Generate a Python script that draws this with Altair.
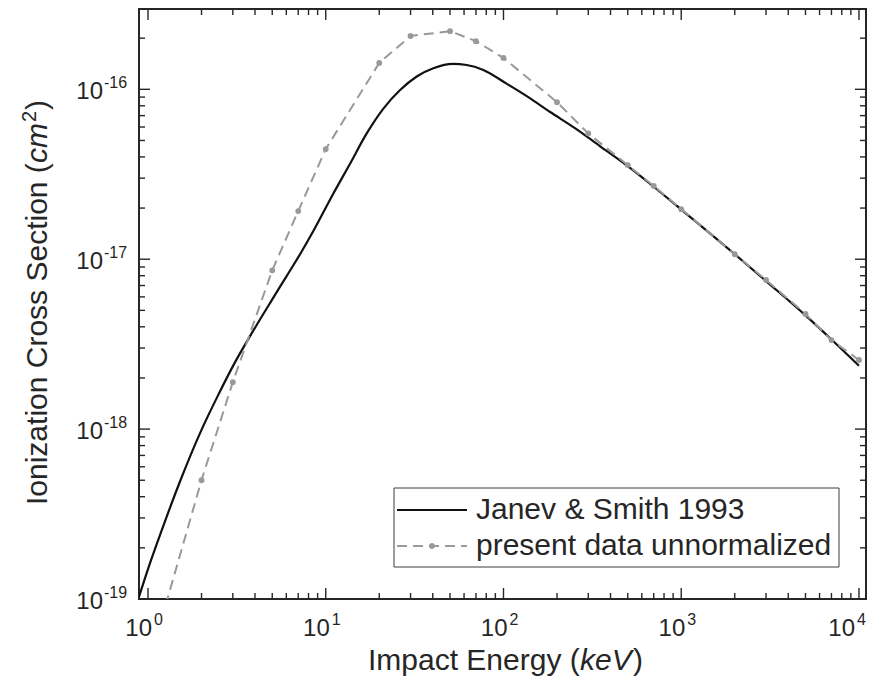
import altair as alt
import pandas as pd

# ---------------- data ----------------
# Janev & Smith 1993 (solid curve)
js_energy = [0.89, 1, 1.2, 1.5, 2, 2.5, 3, 4, 5, 6, 7.17, 8.5, 11, 13.7, 17, 21.1, 26.2, 32.5,
             40.3, 52, 62, 77, 104, 140, 183, 250, 350, 500, 700, 1000, 2000, 3000, 5000, 7000, 10000]
js_sigma = [1.03e-19, 1.5e-19, 2.57e-19, 4.8e-19, 9.9e-19, 1.61e-18, 2.34e-18, 3.95e-18, 5.8e-18,
            7.9e-18, 1.07e-17, 1.46e-17, 2.42e-17, 3.65e-17, 5.5e-17, 7.7e-17, 9.9e-17, 1.19e-16,
            1.33e-16, 1.41e-16, 1.39e-16, 1.30e-16, 1.08e-16, 8.9e-17, 7.35e-17, 5.95e-17, 4.62e-17,
            3.53e-17, 2.67e-17, 1.96e-17, 1.07e-17, 7.43e-18, 4.67e-18, 3.37e-18, 2.36e-18]

# present data unnormalized (dashed with markers)
pd_energy = [1, 2, 3, 5, 7, 10, 20, 30, 50, 70, 100, 200, 300, 500, 700, 1000, 2000, 3000, 5000, 7000, 10000]
pd_sigma = [4.0e-20, 5.0e-19, 1.89e-18, 8.6e-18, 1.92e-17, 4.45e-17, 1.43e-16, 2.06e-16, 2.2e-16,
            1.92e-16, 1.53e-16, 8.4e-17, 5.5e-17, 3.58e-17, 2.7e-17, 1.97e-17, 1.07e-17, 7.55e-18,
            4.76e-18, 3.34e-18, 2.55e-18]

legend_labels = ["Janev & Smith 1993", "present data unnormalized"]
x_title_parts = ["Impact Energy (", "keV", ")"]
y_title_parts = ["Ionization Cross Section (", "cm", "2", ")"]

x_major = [1, 10, 100, 1000, 10000]
x_major_exp = ["0", "1", "2", "3", "4"]
x_minor = [k * 10 ** d for d in range(0, 4) for k in range(2, 10)]
y_major = [1e-19, 1e-18, 1e-17, 1e-16]
y_major_exp = ["-19", "-18", "-17", "-16"]
y_minor = [k * 10.0 ** e for e in (-19, -18, -17) for k in range(2, 10)] + [2e-16]

# ---------------- style ----------------
W, H = 727, 590
FONT = "Liberation Sans, Arial, Helvetica, sans-serif"
TXT = "#262626"
AX = "#262626"
GRAY = "#999999"
MAJ, MIN = 11, 6

xs = alt.Scale(type="log", domain=[0.890, 10950], nice=False)
ys = alt.Scale(type="log", domain=[1e-19, 2.97e-16], nice=False)

js_df = pd.DataFrame({"E": js_energy, "s": js_sigma})
pd_df = pd.DataFrame({"E": pd_energy, "s": pd_sigma})
xmaj_df = pd.DataFrame({"v": x_major, "exp": x_major_exp})
xmin_df = pd.DataFrame({"v": x_minor})
ymaj_df = pd.DataFrame({"v": y_major, "exp": y_major_exp})
ymin_df = pd.DataFrame({"v": y_minor})
one = alt.Data(values=[{"a": 1}])

X = lambda: alt.X("E:Q", scale=xs, axis=None)
Y = lambda: alt.Y("s:Q", scale=ys, axis=None)
XV = lambda: alt.X("v:Q", scale=xs, axis=None)
YV = lambda: alt.Y("v:Q", scale=ys, axis=None)

layers = []

# curves
layers.append(alt.Chart(js_df).mark_line(clip=True, color="#111111", strokeWidth=2.2,
                                         interpolate="monotone").encode(x=X(), y=Y()))
layers.append(alt.Chart(pd_df).mark_line(clip=True, color=GRAY, strokeWidth=2,
                                         strokeDash=[10, 6]).encode(x=X(), y=Y()))
layers.append(alt.Chart(pd_df).mark_circle(clip=True, color=GRAY, size=34, opacity=1).encode(x=X(), y=Y()))

# inward ticks on all four sides
for df, ln in ((xmaj_df, MAJ), (xmin_df, MIN)):
    layers.append(alt.Chart(df).mark_rule(color=AX, strokeWidth=1.4).encode(
        x=XV(), y=alt.value(H), y2=alt.value(H - ln)))
    layers.append(alt.Chart(df).mark_rule(color=AX, strokeWidth=1.4).encode(
        x=XV(), y=alt.value(0), y2=alt.value(ln)))
for df, ln in ((ymaj_df, MAJ), (ymin_df, MIN)):
    layers.append(alt.Chart(df).mark_rule(color=AX, strokeWidth=1.4).encode(
        y=YV(), x=alt.value(0), x2=alt.value(ln)))
    layers.append(alt.Chart(df).mark_rule(color=AX, strokeWidth=1.4).encode(
        y=YV(), x=alt.value(W), x2=alt.value(W - ln)))

# tick labels 10^n (the last x label is nudged left so it stays inside the page)
for flt, shift in (("datum.v < 5000", 0), ("datum.v >= 5000", -8)):
    layers.append(alt.Chart(xmaj_df).transform_filter(flt).mark_text(
        align="right", baseline="alphabetic", fontSize=24, font=FONT, color=TXT, dx=4 + shift).encode(
        x=XV(), y=alt.value(H + 37), text=alt.value("10")))
    layers.append(alt.Chart(xmaj_df).transform_filter(flt).mark_text(
        align="left", baseline="alphabetic", fontSize=16, font=FONT, color=TXT, dx=6 + shift).encode(
        x=XV(), y=alt.value(H + 26), text="exp:N"))
layers.append(alt.Chart(ymaj_df).mark_text(align="right", baseline="alphabetic", fontSize=24,
                                           font=FONT, color=TXT, dy=10).encode(
    y=YV(), x=alt.value(-36), text=alt.value("10")))
layers.append(alt.Chart(ymaj_df).mark_text(align="left", baseline="alphabetic", fontSize=16,
                                           font=FONT, color=TXT, dy=-1.5).encode(
    y=YV(), x=alt.value(-35), text="exp:N"))

# x title
xt_y = H + 71
xt_x0 = 229
layers.append(alt.Chart(one).mark_text(align="left", baseline="alphabetic", fontSize=30, font=FONT,
                                       color=TXT).encode(x=alt.value(xt_x0), y=alt.value(xt_y),
                                                         text=alt.value(x_title_parts[0])))
layers.append(alt.Chart(one).mark_text(align="left", baseline="alphabetic", fontSize=30, font=FONT,
                                       fontStyle="italic", color=TXT).encode(
    x=alt.value(xt_x0 + 212), y=alt.value(xt_y), text=alt.value(x_title_parts[1])))
layers.append(alt.Chart(one).mark_text(align="left", baseline="alphabetic", fontSize=30, font=FONT,
                                       color=TXT).encode(x=alt.value(xt_x0 + 265), y=alt.value(xt_y),
                                                         text=alt.value(x_title_parts[2])))

# y title (rotated)
yt_x = -92
yt_y0 = 496
layers.append(alt.Chart(one).mark_text(align="left", baseline="alphabetic", fontSize=30, font=FONT,
                                       color=TXT, angle=270).encode(
    x=alt.value(yt_x), y=alt.value(yt_y0), text=alt.value(y_title_parts[0])))
layers.append(alt.Chart(one).mark_text(align="left", baseline="alphabetic", fontSize=30, font=FONT,
                                       fontStyle="italic", color=TXT, angle=270).encode(
    x=alt.value(yt_x), y=alt.value(yt_y0 - 342), text=alt.value(y_title_parts[1])))
layers.append(alt.Chart(one).mark_text(align="left", baseline="alphabetic", fontSize=20, font=FONT,
                                       color=TXT, angle=270).encode(
    x=alt.value(yt_x - 11), y=alt.value(yt_y0 - 383), text=alt.value(y_title_parts[2])))
layers.append(alt.Chart(one).mark_text(align="left", baseline="alphabetic", fontSize=30, font=FONT,
                                       color=TXT, angle=270).encode(
    x=alt.value(yt_x), y=alt.value(yt_y0 - 395), text=alt.value(y_title_parts[3])))

# legend
lx0, lx1, ly0, ly1 = 255, 700, 479, 558
layers.append(alt.Chart(one).mark_rect(fill="white", stroke=AX, strokeWidth=0.9).encode(
    x=alt.value(lx0), x2=alt.value(lx1), y=alt.value(ly0), y2=alt.value(ly1)))
layers.append(alt.Chart(one).mark_rule(color="#111111", strokeWidth=2.2).encode(
    x=alt.value(258), x2=alt.value(328), y=alt.value(501)))
layers.append(alt.Chart(one).mark_rule(color=GRAY, strokeWidth=2, strokeDash=[10, 6]).encode(
    x=alt.value(258), x2=alt.value(328), y=alt.value(537)))
layers.append(alt.Chart(one).mark_circle(color=GRAY, size=34, opacity=1).encode(
    x=alt.value(293), y=alt.value(537)))
layers.append(alt.Chart(one).mark_text(align="left", baseline="alphabetic", fontSize=30, font=FONT,
                                       color=TXT).encode(x=alt.value(337), y=alt.value(510),
                                                         text=alt.value(legend_labels[0])))
layers.append(alt.Chart(one).mark_text(align="left", baseline="alphabetic", fontSize=30, font=FONT,
                                       color=TXT).encode(x=alt.value(337), y=alt.value(546),
                                                         text=alt.value(legend_labels[1])))

chart = alt.layer(*layers).properties(
    width=W, height=H,
    padding={"left": 131, "top": 1, "right": 2, "bottom": 77},
    autosize=alt.AutoSizeParams(type="none"),
).configure_view(stroke=AX, strokeWidth=2)

chart.save("out.html", embed_options={"renderer": "svg", "actions": False})
